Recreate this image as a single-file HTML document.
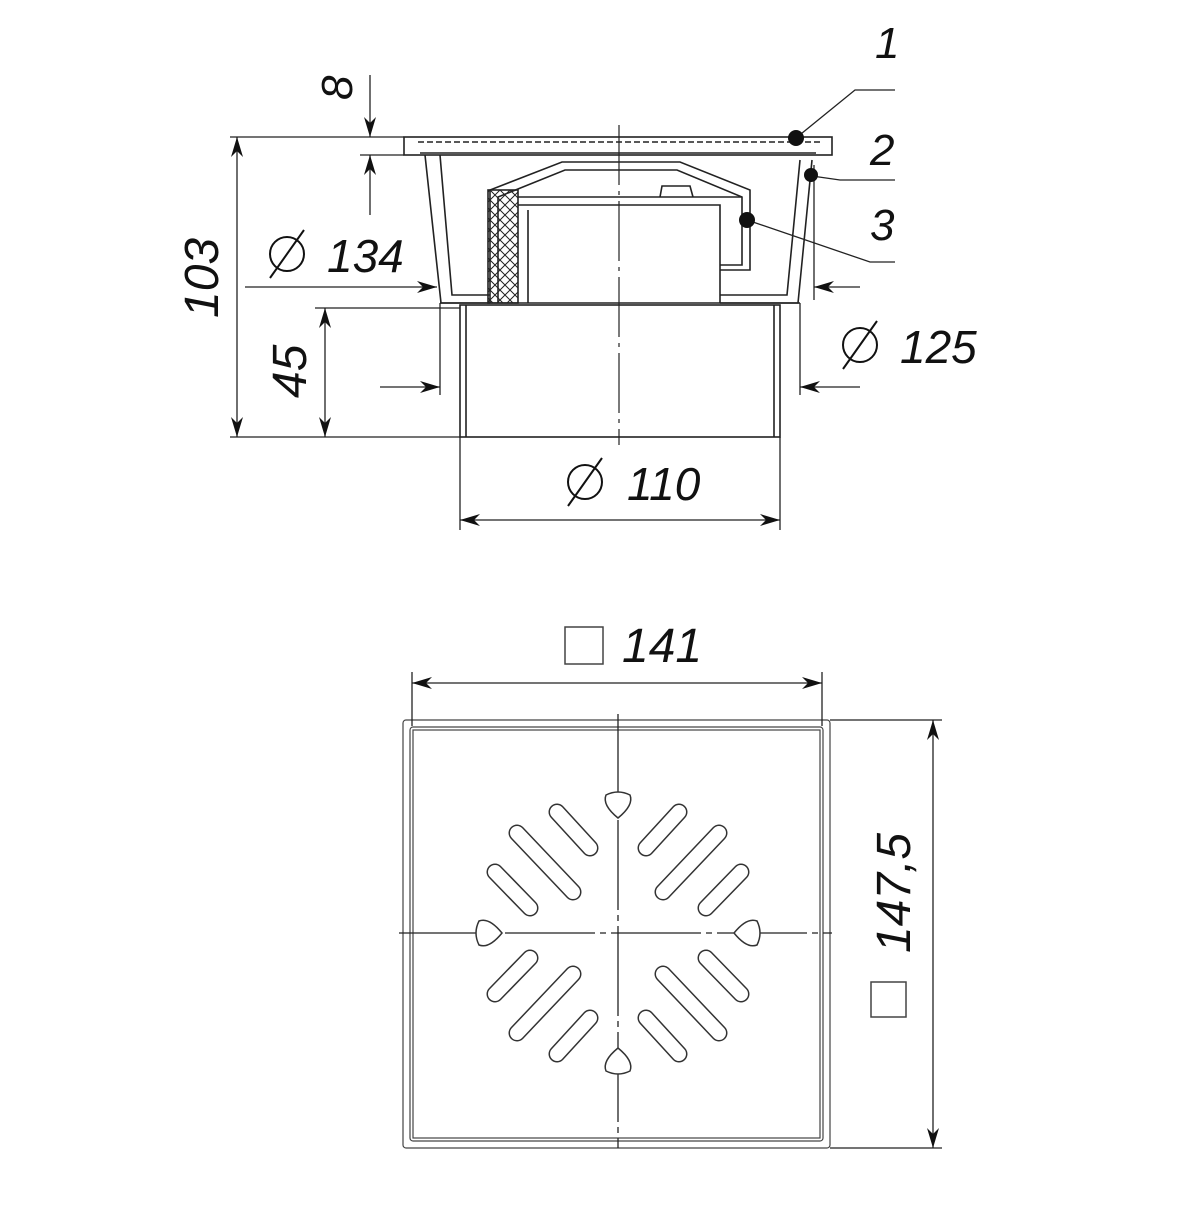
<!DOCTYPE html>
<html><head><meta charset="utf-8"><style>
html,body{margin:0;padding:0;background:#fff}
text{font-family:"Liberation Sans",sans-serif;font-style:italic;fill:#111}
</style></head><body>
<svg width="1200" height="1200" viewBox="0 0 1200 1200" xmlns="http://www.w3.org/2000/svg">
<defs>
<marker id="a" viewBox="0 0 20 12" refX="20" refY="6" markerWidth="20" markerHeight="12" markerUnits="userSpaceOnUse" orient="auto-start-reverse">
<path d="M0,0 L20,6 L0,12 L6,6 Z" fill="#111"/></marker>
<pattern id="h" width="10" height="10" patternUnits="userSpaceOnUse"><path d="M0,0L10,10M10,0L0,10" stroke="#222" stroke-width="1"/></pattern>
<g id="q3">
<line x1="557" y1="812" x2="590" y2="848"/>
<line x1="517" y1="833" x2="573" y2="892"/>
<line x1="495" y1="872" x2="530" y2="908"/>
</g>
<g id="q">
<use href="#q3"/>
<use href="#q3" transform="translate(1236,0) scale(-1,1)"/>
<use href="#q3" transform="translate(0,1866) scale(1,-1)"/>
<use href="#q3" transform="translate(1236,1866) scale(-1,-1)"/>
</g>
</defs>
<g fill="none" stroke="#222" stroke-width="1.6">
<rect x="404" y="137" width="428" height="18"/>
<line x1="418" y1="142" x2="820" y2="142" stroke-dasharray="6 3"/>
<line x1="420" y1="153" x2="816" y2="153"/>
<path d="M425,155 L441,303 L490,303 M440,155 L452,295 L490,295"/>
<path d="M812,160 L798,303 L720,303 M800,160 L787,295 L720,295"/>
<path d="M490,303 L490,190 L562,162 L680,162 L750,190 L750,270 L720,270"/>
<path d="M498,303 L498,197 L565,170 L677,170 L742,197 L742,265 L720,265"/>
<rect x="488" y="190" width="30" height="113" fill="url(#h)"/>
<line x1="518" y1="197" x2="742" y2="197"/>
<path d="M518,205 L720,205 L720,303 M528,210 L528,303"/>
<path d="M660,197 L662,186 L690,186 L693,197"/>
<rect x="460" y="305" width="320" height="132"/>
<line x1="466" y1="305" x2="466" y2="437"/>
<line x1="774" y1="305" x2="774" y2="437"/>
<line x1="440" y1="303" x2="800" y2="303"/>
<line x1="619" y1="125" x2="619" y2="445" stroke-width="1.2" stroke-dasharray="60 6 4 6"/>
</g>
<g stroke="#222" stroke-width="1.3" fill="none">
<line x1="230" y1="137" x2="404" y2="137"/><line x1="230" y1="437" x2="460" y2="437"/>
<line x1="237" y1="137" x2="237" y2="437" marker-start="url(#a)" marker-end="url(#a)"/>
<line x1="315" y1="308" x2="460" y2="308"/>
<line x1="325" y1="308" x2="325" y2="437" marker-start="url(#a)" marker-end="url(#a)"/>
<line x1="360" y1="155" x2="404" y2="155"/>
<line x1="370" y1="75" x2="370" y2="137" marker-end="url(#a)"/>
<line x1="370" y1="215" x2="370" y2="155" marker-end="url(#a)"/>
<line x1="245" y1="287" x2="437" y2="287" marker-end="url(#a)"/>
<line x1="860" y1="287" x2="814" y2="287" marker-end="url(#a)"/>
<line x1="814" y1="165" x2="814" y2="300"/>
<line x1="440" y1="303" x2="440" y2="395"/><line x1="800" y1="303" x2="800" y2="395"/>
<line x1="380" y1="387" x2="440" y2="387" marker-end="url(#a)"/>
<line x1="860" y1="387" x2="800" y2="387" marker-end="url(#a)"/>
<line x1="460" y1="437" x2="460" y2="530"/><line x1="780" y1="437" x2="780" y2="530"/>
<line x1="460" y1="520" x2="780" y2="520" marker-start="url(#a)" marker-end="url(#a)"/>
<path d="M796,138 L855,90 L895,90"/>
<path d="M812,176 L840,180 L895,180"/>
<path d="M747,220 L870,262 L895,262"/>
</g>
<circle cx="796" cy="138" r="8" fill="#111"/>
<circle cx="811" cy="175" r="7" fill="#111"/>
<circle cx="747" cy="220" r="8" fill="#111"/>
<text x="875" y="58" font-size="44">1</text>
<text x="870" y="165" font-size="44">2</text>
<text x="870" y="240" font-size="44">3</text>
<text transform="translate(352,100) rotate(-90)" font-size="44">8</text>
<text transform="translate(218,318) rotate(-90)" font-size="48">103</text>
<text transform="translate(306,398) rotate(-90)" font-size="48">45</text>
<g fill="none" stroke="#111" stroke-width="2">
<circle cx="287" cy="254" r="17"/><line x1="270" y1="278" x2="304" y2="230"/>
<circle cx="860" cy="345" r="17"/><line x1="843" y1="369" x2="877" y2="321"/>
<circle cx="585" cy="482" r="17"/><line x1="568" y1="506" x2="602" y2="458"/>
</g>
<text x="327" y="272" font-size="46">134</text>
<text x="900" y="363" font-size="46">125</text>
<text x="627" y="500" font-size="46">110</text>

<g fill="none" stroke="#444" stroke-width="1.2">
<rect x="403" y="720" width="427" height="428" rx="3"/>
<rect x="410" y="727" width="413" height="414" rx="3"/>
<rect x="413" y="730" width="407" height="408"/>
</g>
<g stroke="#222" stroke-width="1.3" fill="none">
<line x1="412" y1="672" x2="412" y2="726"/><line x1="822" y1="672" x2="822" y2="726"/>
<line x1="412" y1="683" x2="822" y2="683" marker-start="url(#a)" marker-end="url(#a)"/>
<line x1="830" y1="720" x2="942" y2="720"/><line x1="830" y1="1148" x2="942" y2="1148"/>
<line x1="933" y1="720" x2="933" y2="1148" marker-start="url(#a)" marker-end="url(#a)"/>
<line x1="399" y1="933" x2="832" y2="933" stroke-dasharray="90 5 6 5"/>
<line x1="618" y1="714" x2="618" y2="1148" stroke-dasharray="90 5 6 5"/>
</g>
<rect x="565" y="627" width="38" height="37" fill="none" stroke="#444" stroke-width="1.5"/>
<text x="622" y="662" font-size="48">141</text>
<rect x="871" y="982" width="35" height="35" fill="none" stroke="#444" stroke-width="1.5"/>
<text transform="translate(910,953) rotate(-90)" font-size="48">147,5</text>
<use href="#q" stroke="#333" stroke-width="17" stroke-linecap="round"/>
<use href="#q" stroke="#fff" stroke-width="14" stroke-linecap="round"/>
<g fill="#fff" stroke="#333" stroke-width="1.5">
<path d="M606,795 Q618,789 630,795 Q634,805 618,818 Q602,805 606,795Z"/>
<path d="M606,1071 Q618,1077 630,1071 Q634,1061 618,1048 Q602,1061 606,1071Z"/>
<path d="M479,921 Q473,933 479,945 Q489,949 502,933 Q489,917 479,921Z"/>
<path d="M757,921 Q763,933 757,945 Q747,949 734,933 Q747,917 757,921Z"/>
</g>
</svg>
</body></html>
